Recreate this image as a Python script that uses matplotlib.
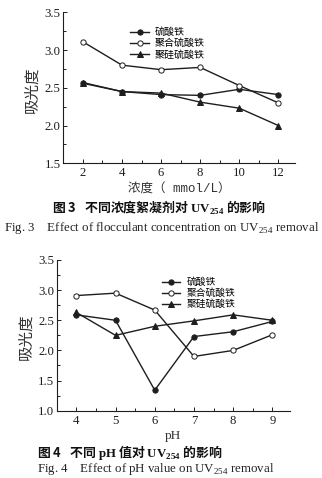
import matplotlib
matplotlib.use('Agg')
import matplotlib.pyplot as plt
from matplotlib.ticker import MultipleLocator
from matplotlib.lines import Line2D

plt.rcParams['font.family'] = ['Liberation Serif', 'Noto Sans CJK SC']
plt.rcParams['mathtext.fontset'] = 'custom'
plt.rcParams['mathtext.rm'] = 'Liberation Serif'
plt.rcParams['mathtext.bf'] = 'Liberation Serif:bold'
plt.rcParams['axes.unicode_minus'] = False

INK = '#1e1e1e'

# 图3：絮凝剂浓度 (mmol/L)
conc = [2, 4, 6, 8, 10, 12]
fe_conc = [2.56, 2.45, 2.41, 2.40, 2.48, 2.41]      # 硫酸铁
pfs_conc = [3.11, 2.80, 2.74, 2.77, 2.53, 2.30]     # 聚合硫酸铁
psfs_conc = [2.57, 2.45, 2.43, 2.31, 2.23, 2.00]    # 聚硅硫酸铁

# 图4：pH
ph = [4, 5, 6, 7, 8, 9]
fe_ph = [2.59, 2.50, 1.34, 2.23, 2.31, 2.48]
pfs_ph = [2.91, 2.95, 2.67, 1.90, 2.00, 2.26]
psfs_ph = [2.63, 2.25, 2.40, 2.49, 2.59, 2.50]

names = ['硫酸铁', '聚合硫酸铁', '聚硅硫酸铁']
W, H = 322, 478


def px_rect(l, t, r, b):
    return [l / W, 1 - b / H, (r - l) / W, (b - t) / H]


def draw_panel(ax, x, series, xlim, xminor):
    styles = [dict(marker='o', mfc=INK, ms=3.8),
              dict(marker='o', mfc='white', ms=3.8),
              dict(marker='^', mfc=INK, ms=4.4)]
    for ys, st in zip(series, styles):
        ax.plot(x, ys, color=INK, lw=1.0, mec=INK, mew=0.7, **st)
    ax.set_xlim(*xlim)
    ax.spines['top'].set_visible(False)
    ax.spines['right'].set_visible(False)
    for s in ('left', 'bottom'):
        ax.spines[s].set_linewidth(0.8)
        ax.spines[s].set_color(INK)
    ax.xaxis.set_minor_locator(MultipleLocator(xminor))
    ax.yaxis.set_major_locator(MultipleLocator(0.5))
    ax.yaxis.set_minor_locator(MultipleLocator(0.25))
    ax.yaxis.set_major_formatter(plt.FormatStrFormatter('%.1f'))
    ax.tick_params(which='both', direction='in', colors=INK, labelsize=9.2, width=0.7)
    ax.tick_params(which='major', length=3)
    ax.tick_params(which='minor', length=2)
    ax.tick_params(axis='y', pad=2)
    ax.tick_params(axis='x', pad=3)
    ax.set_ylabel('吸光度', family='Noto Sans CJK SC', fontsize=11.2, color='#333333')
    handles = [Line2D([], [], color=INK, lw=1.0, mec=INK, mew=0.7, **st) for st in styles]
    return handles


fig = plt.figure(figsize=(W / 100, H / 100), dpi=100)

ax1 = fig.add_axes(px_rect(63.3, 12.3, 295, 163.3))
h = draw_panel(ax1, conc, [fe_conc, pfs_conc, psfs_conc], (1, 12.85), 1)
ax1.set_ylim(1.5, 3.5)
ax1.set_xticks(conc)
ax1.yaxis.set_label_coords(-0.098, 0.49)
ax1.set_xlabel('浓度（ mmol/L）', family=['Liberation Mono', 'Noto Sans CJK SC'],
               fontsize=9, color='#333333', labelpad=3)
ax1.legend(h, names, loc='upper left', bbox_to_anchor=(130 / W, 1 - 27 / H),
           bbox_transform=fig.transFigure, frameon=False,
           handlelength=1.9, handletextpad=0.6, labelspacing=0.12,
           borderpad=0, borderaxespad=0, numpoints=1,
           prop={'family': 'Noto Sans CJK SC', 'size': 7.2})

ax2 = fig.add_axes(px_rect(56.7, 260, 290, 410.7))
h = draw_panel(ax2, ph, [fe_ph, pfs_ph, psfs_ph], (3.5, 9.45), 0.5)
ax2.set_ylim(1.0, 3.5)
ax2.set_xticks(ph)
ax2.yaxis.set_label_coords(-0.095, 0.49)
ax2.set_xlabel('pH', fontsize=9.5, color='#333333', labelpad=2)
ax2.legend(h, names, loc='upper left', bbox_to_anchor=(162 / W, 1 - 277 / H),
           bbox_transform=fig.transFigure, frameon=False,
           handlelength=1.9, handletextpad=0.6, labelspacing=0.12,
           borderpad=0, borderaxespad=0, numpoints=1,
           prop={'family': 'Noto Sans CJK SC', 'size': 7})

# 图题（中英文）
cn = dict(family='Noto Sans CJK SC', fontweight='bold', fontsize=9.3, color='#111111',
          va='center', ha='left')
en = dict(family='Liberation Serif', fontsize=9.3, color='#222222', va='center', ha='left')
fig.text(52 / W, 1 - 208 / H, r'图 3   不同浓度絮凝剂对 $\mathbf{UV}_{\mathbf{254}}$ 的影响', **cn)
fig.text(4 / W, 1 - 228 / H, r'Fig. 3    Effect of flocculant concentration on UV$_{254}$ removal', **en)
fig.text(37 / W, 1 - 453 / H, r'图 4   不同 $\mathbf{pH}$ 值对 $\mathbf{UV}_{\mathbf{254}}$ 的影响', **cn)
fig.text(37 / W, 1 - 469 / H, r'Fig. 4    Effect of pH value on UV$_{254}$ removal', **en)

fig.savefig('out.png', dpi=100)
